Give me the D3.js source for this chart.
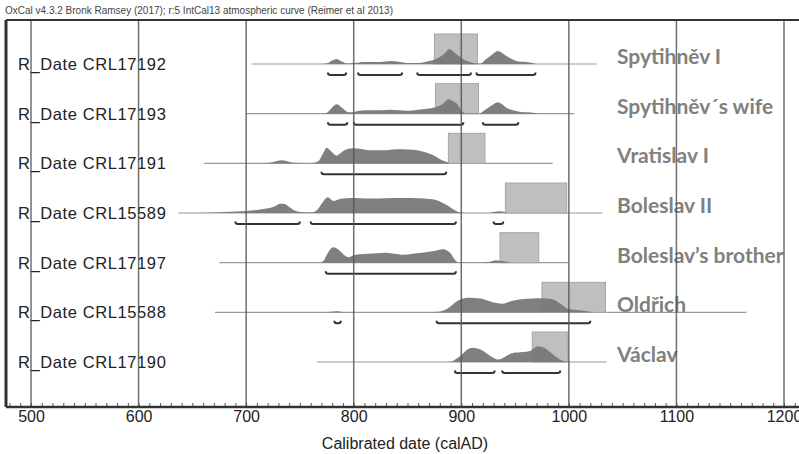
<!DOCTYPE html>
<html>
<head>
<meta charset="utf-8">
<script src="https://cdn.jsdelivr.net/npm/d3@7"></script>
<style>
  body { margin: 0; background: #fff; }
  svg { display: block; }
</style>
</head>
<body>
<div id="chart"></div>
<script>
// sample labels and the people they are matched with
var labels = ["R_Date CRL17192", "R_Date CRL17193", "R_Date CRL17191", "R_Date CRL15589",
              "R_Date CRL17197", "R_Date CRL15588", "R_Date CRL17190"];
var names = ["Spytihněv I", "Spytihněv´s wife", "Vratislav I", "Boleslav II",
             "Boleslav’s brother", "Oldřich", "Václav"];

// full extent of each calibrated distribution (calAD)
var spans = [[705, 1026], [700, 1005], [661, 985], [637, 1031], [675, 999], [671, 1165], [766, 1035]];

// historical date ranges (grey boxes)
var reigns = [[875, 915], [876, 916], [888, 922], [941, 998], [936, 972], [975, 1034], [966, 999]];

// highest posterior density ranges (brackets)
var ranges = [
  [[776, 793], [804, 845], [859, 909], [914, 969]],
  [[776, 794], [800, 902], [920, 953]],
  [[770, 886]],
  [[690, 750], [760, 895], [930, 939]],
  [[774, 895]],
  [[782, 788], [877, 1020]],
  [[894, 931], [938, 992]]
];

// relative probability [year, density]
var dens1 = [[770,0],[776,1],[780,3.5],[784,5],[788,3],[794,0.5],[800,1],[810,2],[825,2],[834,3],[843,2],[850,1],[861,1],[868,2.5],[874,4],[880,7],[885,11],[889,15],[894,11],[899,7],[904,3.5],[908,2],[915,0.5],[918,0.5],[922,4],[927,8],[931,11.5],[934,13],[938,11],[942,8],[947,5],[951,3],[956,2.2],[961,2],[966,1],[970,0]];
var dens2 = [[770,0],[775,1],[779,5],[784,9.3],[789,6],[795,1.5],[799,1.5],[805,3],[815,3.3],[825,3.5],[834,4],[842,3.5],[850,3],[860,4],[868,5],[877,7],[883,10],[888,14.5],[893,12],[896,10],[899,5],[901,2],[905,0.5],[917,0.5],[921,3],[925,6],[930,9.5],[934,11.5],[938,9.5],[942,6],[948,3.5],[954,2],[962,1.3],[967,1],[973,0]];
var dens3 = [[715,0],[722,0.5],[728,2],[733,3],[738,2],[744,0.5],[760,0],[767,2],[771,9],[775,15.7],[779,12],[784,7.7],[790,12],[795,14.5],[800,15],[808,14],[815,13],[823,13],[831,13.2],[840,14],[846,14],[855,13.5],[862,12.3],[868,10.5],[873,8.5],[877,6.3],[882,3],[887,1],[890,0]];
var dens4 = [[655,0],[670,0.5],[680,1],[691,1.5],[700,2],[710,3],[716,4],[722,5],[728,7.5],[731,9.3],[736,9],[740,6],[744,3],[750,1],[759,0.5],[763,1],[766,3],[770,9],[776,15.7],[781,12],[787,14],[793,14.8],[798,15],[807,14.8],[815,14.5],[830,14.7],[846,15],[860,14.7],[871,14],[878,12.5],[883,10],[888,7],[892,4],[896,1.5],[899,0.5],[905,0],[925,0],[930,1],[936,1.7],[942,0]];
var dens5 = [[768,0],[772,2],[775,8],[778,13],[781,15.5],[784,14.5],[788,11],[792,7],[795,5.5],[800,7.5],[806,8.5],[813,9],[822,9.5],[830,10],[838,9],[846,8],[855,9],[863,10],[870,11],[876,12],[881,13.2],[884,13.5],[887,12],[890,9.5],[894,3],[898,0],[918,0],[923,0.3],[928,1.5],[932,2.5],[936,2],[940,1.5],[946,0]];
var dens6 = [[776,0],[781,0.8],[786,1],[791,0],[870,0],[879,0.5],[884,2],[889,5],[896,11],[901,13.5],[906,14.5],[912,14.3],[919,13.5],[925,11.5],[929,10],[934,9],[938,8.5],[942,9.5],[946,11],[954,12.8],[962,13.5],[970,14],[976,14],[982,13.5],[986,12.5],[990,10],[994,7],[999,3.5],[1006,2.5],[1014,1.5],[1019,0.5],[1025,0]];
var dens7 = [[885,0],[891,0.5],[895,3],[899,6],[902,9],[905,12],[911,14.3],[915,13.5],[918,12.5],[923,9],[927,6],[931,3.5],[934,2.5],[937,3],[941,5.5],[948,9],[957,10],[964,11],[968,14],[971,15.7],[975,15],[979,13],[983,9.5],[987,6],[991,3],[995,1],[999,0]];
var densities = [dens1, dens2, dens3, dens4, dens5, dens6, dens7];

var yearTicks = [500, 600, 700, 800, 900, 1000, 1100, 1200];

var width = 799, height = 454;
var frameLeft = 6, frameTop = 20, axisY = 407;

var svg = d3.select("#chart")
  .append("svg")
    .attr("width", width)
    .attr("height", height);

var x = d3.scaleLinear()
  .domain([500, 1200])
  .range([31, 784]);

var y = d3.scalePoint()
  .domain(labels)
  .range([64, 362]);

// density height in pixels
var h = d3.scaleLinear()
  .domain([0, 16])
  .range([0, 16]);

// header
svg.append("text")
  .attr("x", 5)
  .attr("y", 14)
  .attr("textLength", 388)
  .attr("lengthAdjust", "spacingAndGlyphs")
  .style("font-family", "Arial, 'Liberation Sans', sans-serif")
  .style("font-size", "10px")
  .style("fill", "#444")
  .text("OxCal v4.3.2 Bronk Ramsey (2017); r:5 IntCal13 atmospheric curve (Reimer et al 2013)");

var rows = svg.append("g")
  .selectAll("g")
  .data(labels)
  .enter()
  .append("g")
    .attr("transform", function(d) { return "translate(0," + y(d) + ")"; });

// row labels
rows.append("text")
  .attr("x", 18)
  .attr("dy", "0.36em")
  .style("font-family", "Arial, 'Liberation Sans', sans-serif")
  .style("font-size", "16.5px")
  .style("letter-spacing", "0.6px")
  .style("fill", "#222")
  .text(function(d) { return d; });

// person names
rows.append("text")
  .attr("x", 617)
  .attr("y", 0)
  .style("font-family", "Lato, 'Open Sans', sans-serif")
  .style("font-weight", "bold")
  .style("font-size", "21px")
  .style("fill", "#808080")
  .text(function(d, i) { return names[i]; });

// baseline of each distribution
rows.append("line")
  .attr("x1", function(d, i) { return x(spans[i][0]); })
  .attr("x2", function(d, i) { return x(spans[i][1]); })
  .attr("stroke", "#9a9a9a")
  .attr("stroke-width", 1.2);

// reign boxes
rows.append("rect")
  .attr("x", function(d, i) { return x(reigns[i][0]); })
  .attr("y", -30)
  .attr("width", function(d, i) { return x(reigns[i][1]) - x(reigns[i][0]); })
  .attr("height", 30)
  .attr("fill", "#bfbfbf")
  .attr("stroke", "#a6a6a6")
  .attr("stroke-width", 1);

// probability distributions
var area = d3.area()
  .x(function(d) { return x(d[0]); })
  .y0(0)
  .y1(function(d) { return -h(d[1]); })
  .curve(d3.curveMonotoneX);

rows.append("path")
  .attr("d", function(d, i) { return area(densities[i]); })
  .attr("fill", "#787878")
  .attr("fill-opacity", 0.95);

// range brackets
rows.each(function(d, i) {
  d3.select(this).selectAll(".bracket")
    .data(ranges[i])
    .enter()
    .append("path")
      .attr("class", "bracket")
      .attr("d", function(r) {
        var a = x(r[0]), b = x(r[1]);
        return "M" + a + ",8.5 Q" + a + ",11 " + (a + 2.5) + ",11 L" + (b - 2.5) + ",11 Q" + b + ",11 " + b + ",8.5";
      })
      .attr("fill", "none")
      .attr("stroke", "#333")
      .attr("stroke-width", 2);
});

// gridlines on top, as in the original
svg.append("g")
  .selectAll("line")
  .data(yearTicks)
  .enter()
  .append("line")
    .attr("x1", function(d) { return x(d); })
    .attr("x2", function(d) { return x(d); })
    .attr("y1", frameTop)
    .attr("y2", axisY)
    .attr("stroke", "#555")
    .attr("stroke-opacity", 0.85)
    .attr("stroke-width", 1.5);

// minor ticks every 10 years
svg.append("g")
  .attr("transform", "translate(0," + axisY + ")")
  .call(d3.axisBottom(x).tickValues(d3.range(480, 1230, 10)).tickSize(-4).tickFormat(""))
  .call(function(g) { g.select(".domain").remove(); })
  .selectAll("line")
    .attr("stroke", "#555");

// tick labels
svg.append("g")
  .attr("transform", "translate(0," + axisY + ")")
  .call(d3.axisBottom(x).tickValues(yearTicks).tickSize(0).tickPadding(4).tickFormat(d3.format("d")))
  .call(function(g) { g.select(".domain").remove(); })
  .selectAll("text")
    .style("font-family", "Arial, 'Liberation Sans', sans-serif")
    .style("font-size", "16px")
    .style("fill", "#222");

// frame: left, top and axis lines
svg.append("line")
  .attr("x1", frameLeft).attr("x2", frameLeft)
  .attr("y1", frameTop).attr("y2", axisY)
  .attr("stroke", "#333").attr("stroke-width", 3);
svg.append("line")
  .attr("x1", frameLeft).attr("x2", width)
  .attr("y1", frameTop).attr("y2", frameTop)
  .attr("stroke", "#333").attr("stroke-width", 2);
svg.append("line")
  .attr("x1", frameLeft).attr("x2", width)
  .attr("y1", axisY).attr("y2", axisY)
  .attr("stroke", "#333").attr("stroke-width", 2.5);

// axis title
svg.append("text")
  .attr("x", 405)
  .attr("y", 449)
  .attr("text-anchor", "middle")
  .style("font-family", "Arial, 'Liberation Sans', sans-serif")
  .style("font-size", "16px")
  .style("fill", "#222")
  .text("Calibrated date (calAD)");
</script>
</body>
</html>
